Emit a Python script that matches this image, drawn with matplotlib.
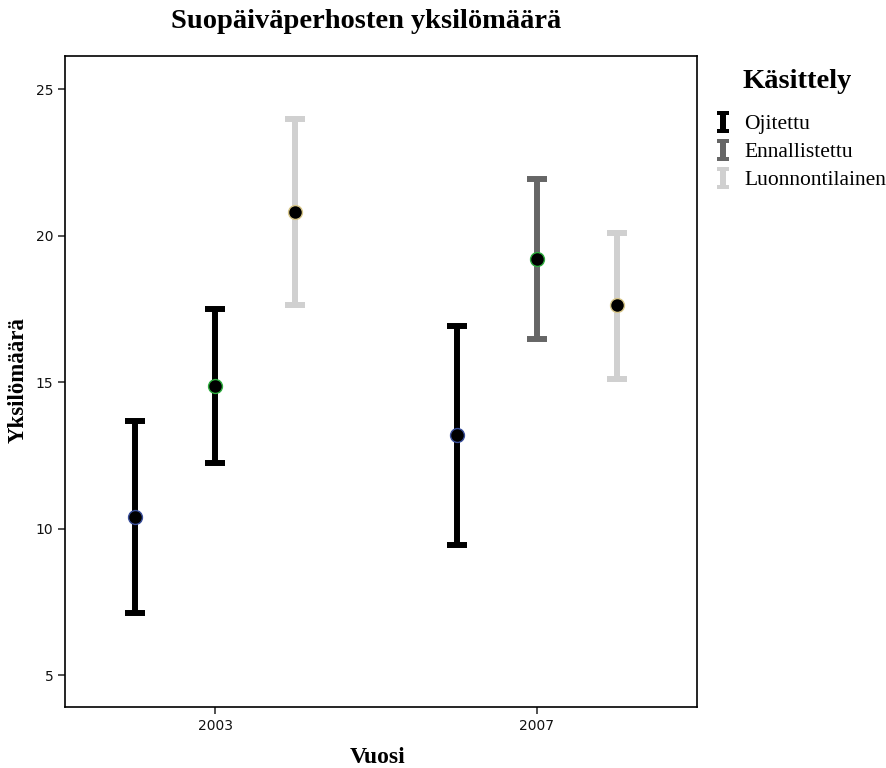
import matplotlib.pyplot as plt
from matplotlib.path import Path
from matplotlib.lines import Line2D

# data
years = ["2003", "2007"]
groups = ["Ojitettu", "Ennallistettu", "Luonnontilainen"]

means = {
    "Ojitettu": [10.39, 13.19],
    "Ennallistettu": [14.86, 19.20],
    "Luonnontilainen": [20.80, 17.63],
}
lower = {
    "Ojitettu": [7.12, 9.44],
    "Ennallistettu": [12.24, 16.47],
    "Luonnontilainen": [17.63, 15.10],
}
upper = {
    "Ojitettu": [13.67, 16.91],
    "Ennallistettu": [17.49, 21.93],
    "Luonnontilainen": [23.98, 20.09],
}

# colours (2003 Ennallistettu is drawn black in the original)
bar_colors = {
    "Ojitettu": ["#000000", "#000000"],
    "Ennallistettu": ["#000000", "#666666"],
    "Luonnontilainen": ["#d0d0d0", "#d0d0d0"],
}
edge_colors = {
    "Ojitettu": "#3a4f9a",
    "Ennallistettu": "#2fae3f",
    "Luonnontilainen": "#d8c78a",
}
legend_colors = ["#000000", "#666666", "#d0d0d0"]
offsets = [-0.249, 0.0, 0.249]

fig = plt.figure(figsize=(8.87, 7.68), dpi=100)
ax = fig.add_axes([65 / 887, 1 - 707 / 768, 632 / 887, 651 / 768])

for g, off in zip(groups, offsets):
    for i in range(len(years)):
        m = means[g][i]
        lo = m - lower[g][i]
        hi = upper[g][i] - m
        ax.errorbar(i + off, m, yerr=[[lo], [hi]], fmt="none",
                    ecolor=bar_colors[g][i], elinewidth=4.3,
                    capsize=7.2, capthick=4.3, zorder=2)
        ax.plot(i + off, m, "o", color="black", markersize=10,
                markeredgecolor=edge_colors[g], markeredgewidth=1.0,
                zorder=3)

ax.set_xlim(-0.466, 1.497)
ax.set_ylim(3.91, 26.13)
ax.set_xticks(range(len(years)))
ax.set_xticklabels(years)
ax.set_yticks([5, 10, 15, 20, 25])
ax.tick_params(axis="both", labelsize=10, length=5, width=1.2,
               colors="#333333", labelcolor="#111111")
for s in ax.spines.values():
    s.set_linewidth(1.2)

serif = ["Liberation Serif", "DejaVu Serif"]
ax.set_xlabel("Vuosi", family=serif, fontsize=17, fontweight="bold")
ax.xaxis.set_label_coords(0.494, -0.078)
ax.xaxis.label.set_va("center")
ax.set_ylabel("Yksilömäärä", family=serif, fontsize=16.5, fontweight="bold")
ax.yaxis.set_label_coords(-0.074, 0.502)
ax.yaxis.label.set_va("center")
fig.text(366 / 887, 1 - 22 / 768, "Suopäiväperhosten yksilömäärä",
         family=serif, fontsize=20.5, fontweight="bold",
         ha="center", va="center")

# legend title and I-beam legend markers
fig.text(797 / 887, 1 - 82 / 768, "Käsittely", family=serif,
         fontsize=20.5, fontweight="bold", ha="center", va="center")
ibeam = Path([(-0.5, 1), (0.5, 1), (0.5, 0.6), (0.23, 0.6), (0.23, -0.6),
              (0.5, -0.6), (0.5, -1), (-0.5, -1), (-0.5, -0.6),
              (-0.23, -0.6), (-0.23, 0.6), (-0.5, 0.6), (-0.5, 1)],
             closed=True)
handles = [Line2D([], [], linestyle="none", marker=ibeam, markersize=16.5,
                  color=c, markeredgewidth=0) for c in legend_colors]
leg = fig.legend(handles, groups, loc="upper left",
                 bbox_to_anchor=(714 / 887, 1 - 114 / 768),
                 frameon=False,
                 prop={"family": serif, "size": 15.5},
                 handlelength=0.8, handletextpad=0.6, labelspacing=0.37,
                 borderaxespad=0, borderpad=0)

fig.savefig("out.png", dpi=100)
